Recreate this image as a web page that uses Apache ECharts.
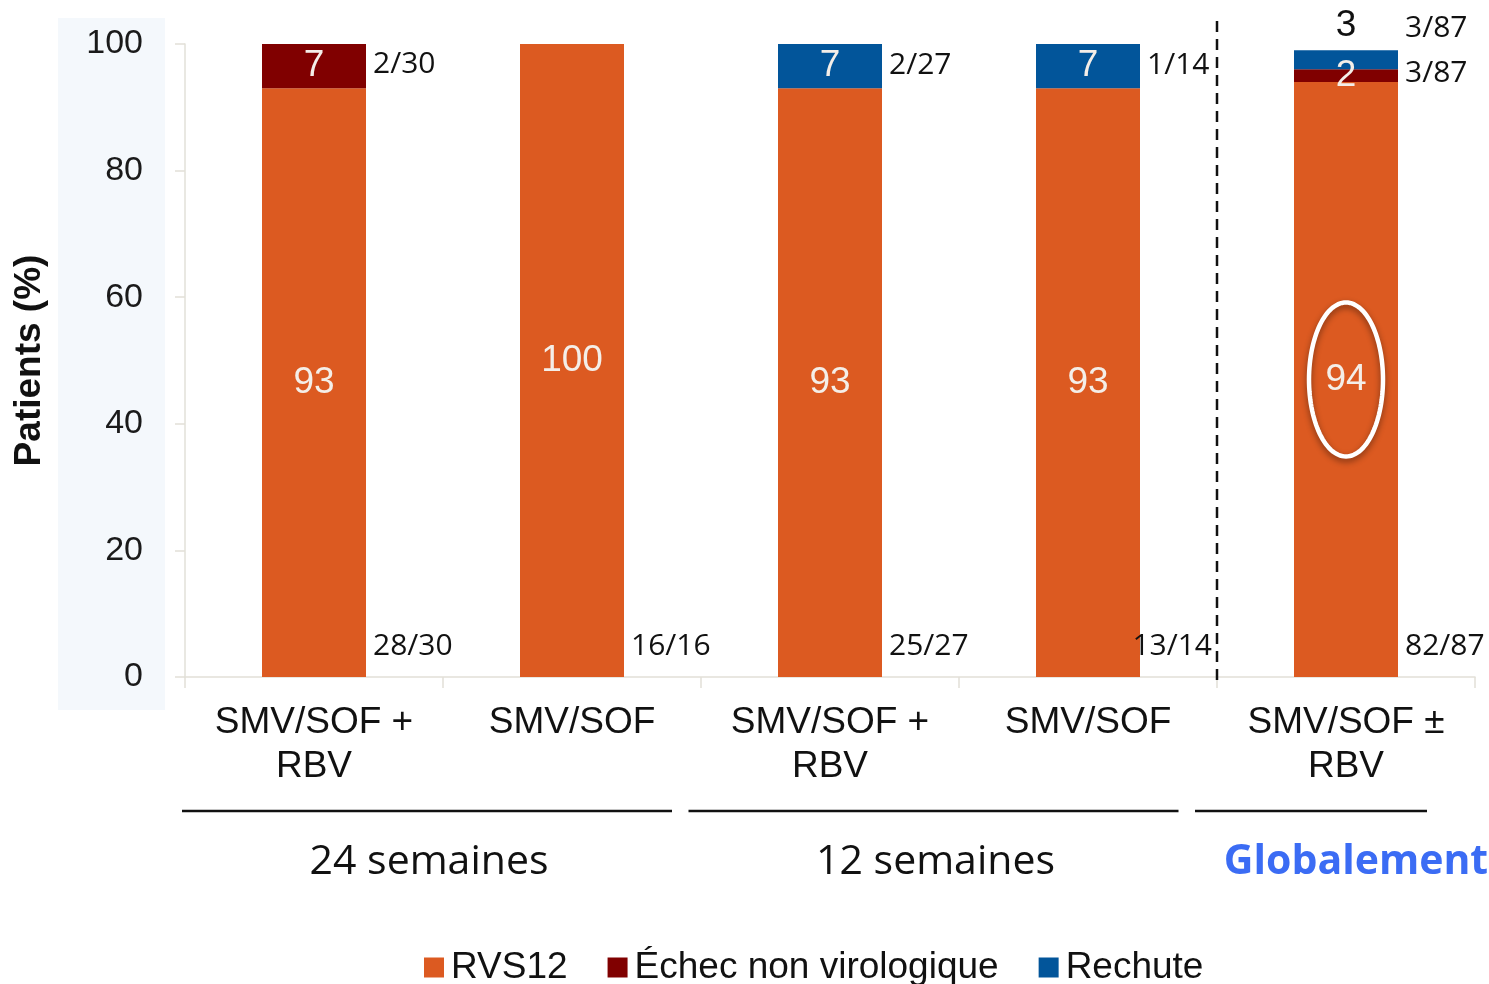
<!DOCTYPE html>
<html>
<head>
<meta charset="utf-8">
<style>
  html, body { margin: 0; padding: 0; background: #ffffff; }
  #chart { width: 1489px; height: 984px; }
</style>
<script src="https://cdn.jsdelivr.net/npm/echarts@6/dist/echarts.min.js"></script>
</head>
<body>
<div id="chart"></div>
<script>
// Treatment arms
const categories = ['SMV/SOF +\nRBV', 'SMV/SOF', 'SMV/SOF +\nRBV', 'SMV/SOF', 'SMV/SOF ±\nRBV'];
// Percent of patients per outcome
const rvs12   = [93, 100, 93, 93, 94];
const echec   = [7, 0, 0, 0, 2];
const rechute = [0, 0, 7, 7, 3];
// Patient counts shown next to each segment
const fracRvs     = ['28/30', '16/16', '25/27', '13/14', '82/87'];
const fracEchec   = ['2/30', '', '', '', '3/87'];
const fracRechute = ['', '', '2/27', '1/14', '3/87'];
// Y axis ticks
const yTicks = [0, 20, 40, 60, 80, 100];
// Duration groups under the axis
const groupNames = ['24 semaines', '12 semaines', 'Globalement'];
const groupFrom  = [0, 2, 4];
const groupTo    = [1, 3, 4];
// Highlighted arm (overall result)
const highlightIndex = 4;

const SANS = '"Liberation Sans", Arial, sans-serif';
const HUMAN = '"Open Sans", "Lato", sans-serif';
const C_RVS = '#DC5A21', C_ECHEC = '#800000', C_RECHUTE = '#02559A';
const BAR_W = 104;
const AXIS_GRAY = '#e2e0d8';
const FRAC_FONT = '30px ' + HUMAN;

// Text width helper, used to keep fractions clear of the dashed separator
const measureCtx = document.createElement('canvas').getContext('2d');
function textWidth(s) { measureCtx.font = FRAC_FONT; return measureCtx.measureText(s).width; }

const valueLabel = {
  show: true,
  position: 'inside',
  color: '#f4eee8',
  fontFamily: SANS,
  fontSize: 37,
  formatter: p => (p.value > 0 ? String(p.value) : '')
};

// Small segments get their value written above the bar
const rechuteData = rechute.map(v => (v > 0 && v < 5)
  ? { value: v, label: { position: 'top', color: '#111', distance: 6 } }
  : v);

// Fraction annotations placed relative to their segment
const fracItems = [];
for (let i = 0; i < categories.length; i++) {
  const total = rvs12[i] + echec[i] + rechute[i];
  fracItems.push({ cat: i, y: 0, text: fracRvs[i], dy: -31 });
  if (fracEchec[i]) fracItems.push({ cat: i, y: rvs12[i] + echec[i] / 2, text: fracEchec[i], dy: -2 });
  if (fracRechute[i]) {
    if (rechute[i] >= 5) fracItems.push({ cat: i, y: rvs12[i] + echec[i] + rechute[i] / 2, text: fracRechute[i], dy: -1 });
    else fracItems.push({ cat: i, y: total, text: fracRechute[i], dy: -22 });
  }
}

const chart = echarts.init(document.getElementById('chart'), null, { renderer: 'canvas' });

chart.setOption({
  animation: false,
  backgroundColor: '#ffffff',
  graphic: [{
    type: 'rect', left: 58, top: 18, z: -100,
    shape: { width: 107, height: 692 },
    style: { fill: '#f4f8fc' }
  }],
  grid: { left: 185, right: 14, top: 44, bottom: 307, containLabel: false, outerBoundsMode: 'none' },
  legend: {
    data: ['RVS12', 'Échec non virologique', 'Rechute'],
    left: 419, top: 944,
    icon: 'rect', itemWidth: 20, itemHeight: 20, itemGap: 40,
    textStyle: { fontFamily: SANS, fontSize: 37, color: '#111', padding: [0, 0, 0, 2] }
  },
  xAxis: {
    type: 'category',
    data: categories,
    axisLine: { lineStyle: { color: AXIS_GRAY, width: 1.5 } },
    axisTick: { show: true, length: 11, lineStyle: { color: AXIS_GRAY, width: 1.5 } },
    axisLabel: { fontFamily: SANS, fontSize: 37, lineHeight: 44, color: '#111', margin: 24, interval: 0 }
  },
  yAxis: {
    type: 'value', min: 0, max: 100, interval: 20,
    name: 'Patients (%)', nameLocation: 'middle', nameGap: 137, nameRotate: 90,
    nameTextStyle: { fontFamily: SANS, fontSize: 37, fontWeight: 'bold', color: '#111' },
    axisLine: { show: true, lineStyle: { color: AXIS_GRAY, width: 1.5 } },
    axisTick: { show: true, length: 10, lineStyle: { color: AXIS_GRAY, width: 1.5 } },
    splitLine: { show: false },
    axisLabel: {
      fontFamily: SANS, fontSize: 34, color: '#1a1a1a', margin: 42,
      formatter: v => (yTicks.indexOf(v) >= 0 ? String(v) : '')
    }
  },
  series: [
    { name: 'RVS12', type: 'bar', stack: 'total', barWidth: BAR_W, data: rvs12,
      itemStyle: { color: C_RVS }, label: valueLabel, z: 2 },
    { name: 'Échec non virologique', type: 'bar', stack: 'total', barWidth: BAR_W, data: echec,
      itemStyle: { color: C_ECHEC }, label: valueLabel, z: 2 },
    { name: 'Rechute', type: 'bar', stack: 'total', barWidth: BAR_W, data: rechuteData,
      itemStyle: { color: C_RECHUTE }, label: valueLabel, z: 2 },
    // Patient count fractions
    { type: 'custom', coordinateSystem: 'cartesian2d', z: 5, clip: false, silent: true,
      data: fracItems.map(d => [d.cat, d.y]),
      renderItem: (params, api) => {
        const d = fracItems[params.dataIndex];
        const p = api.coord([api.value(0), api.value(1)]);
        let x = p[0] + BAR_W / 2 + 7;
        if (d.cat === highlightIndex - 1) {
          const sepX = (p[0] + api.coord([highlightIndex, 0])[0]) / 2;
          x = Math.min(x, sepX - 5 - textWidth(d.text));
        }
        return { type: 'text', x: x, y: p[1] + d.dy,
          style: { text: d.text, font: FRAC_FONT, fill: '#111',
                   align: 'left', verticalAlign: 'middle' } };
      } },
    // Dashed separator before the overall arm
    { type: 'custom', coordinateSystem: 'cartesian2d', z: 5, clip: false, silent: true,
      data: [[highlightIndex - 1, 0]],
      renderItem: (params, api) => {
        const a = api.coord([highlightIndex - 1, 0]);
        const b = api.coord([highlightIndex, 0]);
        const top = api.coord([highlightIndex, 100]);
        const x = (a[0] + b[0]) / 2;
        return { type: 'line', shape: { x1: x, y1: a[1] + 3, x2: x, y2: top[1] - 30 },
          style: { stroke: '#111', lineWidth: 2.5, lineDash: [11, 7] } };
      } },
    // Ellipse around the overall RVS12 value
    { type: 'custom', coordinateSystem: 'cartesian2d', z: 6, clip: false, silent: true,
      data: [[highlightIndex, rvs12[highlightIndex] / 2]],
      renderItem: (params, api) => {
        const c = api.coord([api.value(0), api.value(1)]);
        const rx = 37, ry = 77, pts = [];
        for (let k = 0; k < 120; k++) {
          const t = k / 120 * Math.PI * 2;
          pts.push([c[0] + rx * Math.cos(t), c[1] + ry * Math.sin(t)]);
        }
        return { type: 'polygon', shape: { points: pts },
          style: { fill: 'none', stroke: '#ffffff', lineWidth: 4.5,
                   shadowBlur: 6, shadowColor: 'rgba(0,0,0,0.45)', shadowOffsetY: 3 } };
      } },
    // Duration groups: rule + caption
    { type: 'custom', coordinateSystem: 'cartesian2d', z: 5, clip: false, silent: true,
      data: groupNames.map((g, i) => [groupFrom[i], 0]),
      renderItem: (params, api) => {
        const i = params.dataIndex;
        const band = api.size([1, 0])[0];
        const l = api.coord([groupFrom[i], 0]);
        const r = api.coord([groupTo[i], 0]);
        const shift = 9.5 * i;
        const x1 = l[0] - band / 2 - 3 - shift;
        const x2 = r[0] + band / 2 - 29 - shift;
        const last = i === groupNames.length - 1;
        return { type: 'group', children: [
          { type: 'line', shape: { x1: x1, y1: l[1] + 134, x2: x2, y2: l[1] + 134 },
            style: { stroke: '#111', lineWidth: 2.5 } },
          { type: 'text', x: last ? (x1 + x2) / 2 + 45 : (x1 + x2) / 2 + 2, y: l[1] + 185,
            style: { text: groupNames[i], fontFamily: HUMAN, fontSize: 41,
                     fontWeight: last ? 'bold' : 'normal', fill: last ? '#3B6CF4' : '#111',
                     align: 'center', verticalAlign: 'middle' } }
        ] };
      } }
  ]
});
</script>
</body>
</html>
